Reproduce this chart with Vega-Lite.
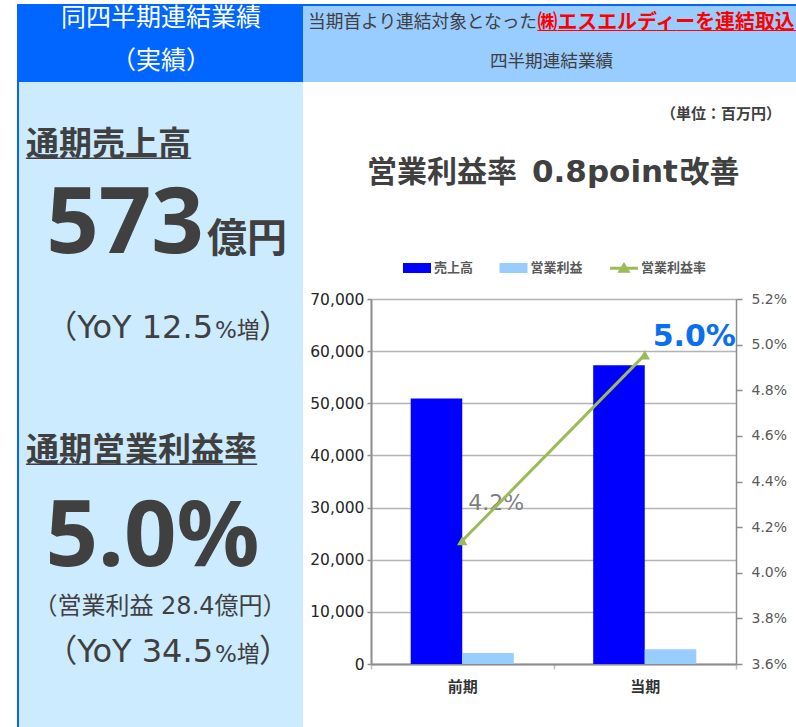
{
  "$schema": "https://vega.github.io/schema/vega-lite/v6.json",
  "background": "white",
  "padding": {"left": 17, "top": 4, "right": 0, "bottom": 0},
  "config": {
    "view": {"stroke": null},
    "font": "DejaVu Sans, Noto Sans CJK JP",
    "text": {"font": "DejaVu Sans, Noto Sans CJK JP", "color": "#404040"}
  },
  "spacing": 0,
  "hconcat": [
    {
      "width": 2, "height": 723,
      "view": {"fill": "#0066ff"},
      "data": {"values": [{}]},
      "mark": {"type": "text", "text": "", "fontSize": 0}
    },
    {
      "spacing": 0,
      "vconcat": [
        {
          "width": 284, "height": 78,
          "view": {"fill": "#0066ff"},
          "data": {"values": [{}]},
          "layer": [
            {"mark": {"type": "text", "text": "同四半期連結業績", "fontSize": 25, "color": "#ffffff", "baseline": "middle", "dy": -25}},
            {"mark": {"type": "text", "text": "（実績）", "fontSize": 25, "color": "#ffffff", "baseline": "middle", "dy": 18}}
          ]
        },
        {
          "width": 284, "height": 645,
          "view": {"fill": "#ccebff"},
          "data": {"values": [{}]},
          "layer": [
            {"mark": {"type": "text", "text": "通期売上高", "font": "Noto Sans CJK JP", "fontSize": 33, "fontWeight": "bold", "color": "#404040", "align": "left", "baseline": "middle", "dx": -135, "dy": -259.5}},
            {"mark": {"type": "text", "text": "＿＿＿＿＿", "font": "Noto Sans CJK JP", "fontSize": 33, "fontWeight": "bold", "color": "#404040", "align": "left", "baseline": "middle", "dx": -135, "dy": -259.5}},
            {"mark": {"type": "text", "text": "573", "font": "Noto Sans", "fontSize": 92, "fontWeight": "bold", "color": "#404040", "align": "right", "baseline": "alphabetic", "dx": 43, "dy": -151.5}},
            {"mark": {"type": "text", "text": "億円", "font": "Noto Sans CJK JP", "fontSize": 40, "fontWeight": "bold", "color": "#404040", "align": "left", "baseline": "alphabetic", "dx": 46, "dy": -152.5}},
            {"mark": {"type": "text", "text": "（YoY 12.5", "fontSize": 32, "align": "right", "baseline": "alphabetic", "dx": 52, "dy": -66.5}},
            {"mark": {"type": "text", "text": "%増", "fontSize": 23, "align": "left", "baseline": "alphabetic", "dx": 54, "dy": -66.5}},
            {"mark": {"type": "text", "text": "）", "fontSize": 32, "align": "left", "baseline": "alphabetic", "dx": 98, "dy": -66.5}},
            {"mark": {"type": "text", "text": "通期営業利益率", "font": "Noto Sans CJK JP", "fontSize": 33, "fontWeight": "bold", "color": "#404040", "align": "left", "baseline": "middle", "dx": -135, "dy": 46.5}},
            {"mark": {"type": "text", "text": "＿＿＿＿＿＿＿", "font": "Noto Sans CJK JP", "fontSize": 33, "fontWeight": "bold", "color": "#404040", "align": "left", "baseline": "middle", "dx": -135, "dy": 46.5}},
            {"mark": {"type": "text", "text": "5.0%", "font": "Noto Sans", "fontSize": 92, "fontWeight": "bold", "color": "#404040", "align": "center", "baseline": "alphabetic", "dx": -8.5, "dy": 161.5}},
            {"mark": {"type": "text", "text": "（営業利益 28.4億円）", "fontSize": 24, "align": "center", "baseline": "middle", "dx": -1, "dy": 202.5}},
            {"mark": {"type": "text", "text": "（YoY 34.5", "fontSize": 32, "align": "right", "baseline": "alphabetic", "dx": 52, "dy": 257.5}},
            {"mark": {"type": "text", "text": "%増", "fontSize": 23, "align": "left", "baseline": "alphabetic", "dx": 54, "dy": 257.5}},
            {"mark": {"type": "text", "text": "）", "fontSize": 32, "align": "left", "baseline": "alphabetic", "dx": 98, "dy": 257.5}}
          ]
        }
      ]
    },
    {
      "spacing": 0,
      "vconcat": [
        {
          "width": 493, "height": 2,
          "view": {"fill": "#0066ff"},
          "data": {"values": [{}]},
          "mark": {"type": "text", "text": "", "fontSize": 0}
        },
        {
          "width": 493, "height": 76,
          "view": {"fill": "#99ccff"},
          "data": {"values": [{}]},
          "layer": [
            {"mark": {"type": "text", "text": "当期首より連結対象となった", "fontSize": 17.7, "color": "#404040", "align": "left", "baseline": "middle", "dx": -241.5, "dy": -21.5}},
            {"mark": {"type": "text", "text": "㈱エスエルディーを連結取込", "font": "Noto Sans CJK JP", "fontSize": 19.9, "fontWeight": "bold", "color": "#ff0000", "align": "left", "baseline": "middle", "dx": -12, "dy": -21.5, "limit": 262, "ellipsis": ""}},
            {"mark": {"type": "text", "text": "＿＿＿＿＿＿＿＿＿＿＿＿＿", "font": "Noto Sans CJK JP", "fontSize": 19.9, "fontWeight": "bold", "color": "#ff0000", "align": "left", "baseline": "middle", "dx": -12, "dy": -21.5, "limit": 262, "ellipsis": ""}},
            {"mark": {"type": "text", "text": "四半期連結業績", "fontSize": 17.6, "color": "#404040", "align": "center", "baseline": "middle", "dx": 2, "dy": 18}}
          ]
        },
        {
          "width": 493, "height": 210,
          "data": {"values": [{}]},
          "layer": [
            {"mark": {"type": "text", "text": "（単位：百万円）", "font": "Noto Sans CJK JP", "fontSize": 15, "fontWeight": "bold", "color": "#404040", "align": "right", "baseline": "middle", "dx": 231.5, "dy": -73}},
            {"mark": {"type": "text", "text": "営業利益率", "font": "Noto Sans CJK JP", "fontSize": 30, "fontWeight": "bold", "color": "#404040", "align": "left", "baseline": "alphabetic", "dx": -182.5, "dy": -5.5}},
            {"mark": {"type": "text", "text": "0.8point", "font": "DejaVu Sans", "fontSize": 31, "fontWeight": "bold", "color": "#404040", "align": "left", "baseline": "alphabetic", "dx": -17.5, "dy": -5.5}},
            {"mark": {"type": "text", "text": "改善", "font": "Noto Sans CJK JP", "fontSize": 30, "fontWeight": "bold", "color": "#404040", "align": "right", "baseline": "alphabetic", "dx": 190, "dy": -5.5}}
          ]
        },
        {
          "spacing": 0,
          "hconcat": [
            {
              "width": 6, "height": 365,
              "data": {"values": [{}]},
              "mark": {"type": "text", "text": "", "fontSize": 0}
            },
            {
              "width": 365, "height": 365,
              "layer": [
                {
                  "data": {"values": [
                    {"period": "前期", "series": "売上高", "value": 50900},
                    {"period": "前期", "series": "営業利益", "value": 2110},
                    {"period": "当期", "series": "売上高", "value": 57300},
                    {"period": "当期", "series": "営業利益", "value": 2840}
                  ]},
                  "mark": {"type": "bar"},
                  "encoding": {
                    "x": {
                      "field": "period", "type": "nominal",
                      "scale": {"domain": ["前期", "当期"], "paddingInner": 0, "paddingOuter": 0},
                      "axis": {"orient": "bottom", "title": null, "labelAngle": 0, "domainColor": "#8c8c8c", "domainWidth": 2, "tickBand": "extent", "tickColor": "#bfbfbf", "tickSize": 5, "tickWidth": 1.5, "labelPadding": 10, "labelFontSize": 15, "labelFontWeight": "bold", "labelColor": "#333333", "labelFont": "Noto Sans CJK JP"}
                    },
                    "xOffset": {
                      "field": "series", "type": "nominal",
                      "scale": {"domain": ["売上高", "営業利益"], "paddingInner": 0, "paddingOuter": 0.77}
                    },
                    "y": {
                      "field": "value", "type": "quantitative",
                      "scale": {"domain": [0, 70000], "nice": false},
                      "axis": {"orient": "left", "title": null, "values": [0, 10000, 20000, 30000, 40000, 50000, 60000, 70000], "format": ",.0f", "grid": true, "gridColor": "#b3b3b3", "gridWidth": 1.5, "domainColor": "#8c8c8c", "domainWidth": 2, "tickColor": "#8c8c8c", "tickSize": 4, "tickWidth": 1.5, "labelFontSize": 15.5, "labelColor": "#262626", "labelPadding": 3, "labelFont": "DejaVu Sans"}
                    },
                    "color": {
                      "field": "series", "type": "nominal",
                      "scale": {"domain": ["売上高", "営業利益", "営業利益率"], "range": ["#0000ff", "#99ccff", "#9bbb59"]},
                      "legend": {
                        "orient": "none", "legendX": 384.5, "legendY": 248.5, "direction": "horizontal", "title": null, "padding": 0,
                        "symbolSize": 784, "symbolStrokeWidth": 3,
                        "labelFontSize": 13, "labelFontWeight": "bold", "labelColor": "#595959", "labelFont": "Noto Sans CJK JP", "labelOffset": 1.5, "columnPadding": 20.5,
                        "encode": {
                          "symbols": {
                            "update": {
                              "shape": {"signal": "datum.value === '営業利益率' ? 'M-1,0H1M-0.28,0.2L0,-0.25L0.28,0.2Z' : 'M-0.893,-0.25H0.893V0.25H-0.893Z'"},
                              "fill": {"signal": "scale('color', datum.value)"},
                              "stroke": {"signal": "scale('color', datum.value)"},
                              "opacity": {"value": 1}
                            }
                          }
                        }
                      }
                    }
                  }
                },
                {
                  "data": {"values": [
                    {"period": "前期", "rate": 0.0414, "label": "4.2%"},
                    {"period": "当期", "rate": 0.04955, "label": "5.0%"}
                  ]},
                  "layer": [
                    {
                      "transform": [{"filter": "datum.period === '前期'"}],
                      "mark": {"type": "text", "fontSize": 22, "color": "#7f7f7f", "align": "center", "baseline": "alphabetic", "dx": 34, "dy": -31},
                      "encoding": {
                        "x": {"field": "period", "type": "nominal"},
                        "y": {"field": "rate", "type": "quantitative"},
                        "text": {"field": "label", "type": "nominal"}
                      }
                    },
                    {
                      "transform": [{"filter": "datum.period === '当期'"}],
                      "mark": {"type": "text", "fontSize": 30, "fontWeight": "bold", "color": "#0a6ef0", "align": "center", "baseline": "alphabetic", "dx": 49.5, "dy": -9},
                      "encoding": {
                        "x": {"field": "period", "type": "nominal"},
                        "y": {"field": "rate", "type": "quantitative"},
                        "text": {"field": "label", "type": "nominal"}
                      }
                    },
                    {
                      "mark": {"type": "line", "strokeWidth": 3, "point": {"shape": "triangle-up", "size": 110, "filled": true}},
                      "encoding": {
                        "x": {"field": "period", "type": "nominal"},
                        "y": {
                          "field": "rate", "type": "quantitative",
                          "scale": {"domain": [0.036, 0.052], "nice": false, "zero": false},
                          "axis": {"orient": "right", "title": null, "values": [0.036, 0.038, 0.04, 0.042, 0.044, 0.046, 0.048, 0.05, 0.052], "format": ".1%", "grid": false, "domainColor": "#8c8c8c", "domainWidth": 1.5, "tickColor": "#8c8c8c", "tickSize": 6, "tickWidth": 1.5, "labelFontSize": 14, "labelColor": "#595959", "labelPadding": 9, "labelFont": "DejaVu Sans"}
                        },
                        "color": {"datum": "営業利益率", "type": "nominal"}
                      }
                    }
                  ]
                }
              ],
              "resolve": {"scale": {"y": "independent"}}
            }
          ]
        }
      ]
    }
  ]
}
